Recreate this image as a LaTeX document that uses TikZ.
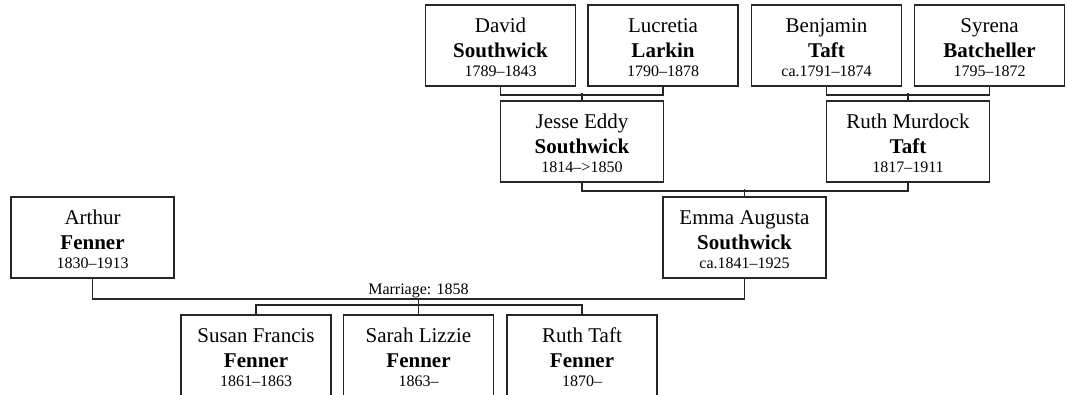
\documentclass[tikz,border=0pt]{standalone}
\usepackage{fontspec}
\setmainfont{Liberation Serif}
\usetikzlibrary{calc}
% first name, surname, dates
\newcommand{\pers}[3]{\rule{0pt}{14pt}#1\\\textbf{#2}\\[-4.5pt]{\fontsize{12}{14.25}\selectfont #3}}

\begin{document}
\begin{tikzpicture}[x=0.75pt, y=-0.75pt,
    person/.style={draw=black!85, line width=1.3pt, minimum width=112.5pt, minimum height=60.75pt,
      inner sep=0pt, align=center, font=\fontsize{15.75}{18.75}\selectfont},
    wide/.style={person, minimum width=122.25pt},
    link/.style={draw=black!85, line width=1.3pt}]
    \useasboundingbox (0,0) rectangle (1067,394);
    % grandparents
    \node[person] (david) at (500.5,45.5) {\pers{David}{Southwick}{1789–1843}};
    \node[person] (lucretia) at (663,45.5) {\pers{Lucretia}{Larkin}{1790–1878}};
    \node[person] (benjamin) at (826.5,45.5) {\pers{Benjamin}{Taft}{ca.1791–1874}};
    \node[person] (syrena) at (989.5,45.5) {\pers{Syrena}{Batcheller}{1795–1872}};
    % parents
    \node[wide] (jesse) at (582,141.5) {\pers{Jesse Eddy}{Southwick}{1814–>1850}};
    \node[wide] (ruthm) at (908,141.5) {\pers{Ruth Murdock}{Taft}{1817–1911}};
    % couple
    \node[wide] (arthur) at (92.5,237.5) {\pers{Arthur}{Fenner}{1830–1913}};
    \node[wide] (emma) at (744.5,237.5) {\pers{Emma Augusta}{Southwick}{ca.1841–1925}};
    % children (cut off at the bottom)
    \node[person] (susan) at (256,355.5) {\pers{Susan Francis}{Fenner}{1861–1863}};
    \node[person] (sarah) at (418.5,355.5) {\pers{Sarah Lizzie}{Fenner}{1863–}};
    \node[person] (rutht) at (582,355.5) {\pers{Ruth Taft}{Fenner}{1870–}};
    % parent brackets
    \draw[link] (david.south) -- ++(0,8) -| (lucretia.south);
    \draw[link] (jesse.north) -- ++(0,-7);
    \draw[link] (benjamin.south) -- ++(0,8) -| (syrena.south);
    \draw[link] (ruthm.north) -- ++(0,-7);
    \draw[link] (jesse.south) -- ++(0,8) -| (ruthm.south);
    \draw[link] (emma.north) -- ++(0,-7);
    % marriage
    \draw[link] (arthur.south) -- ++(0,20) -| (emma.south);
    \coordinate (fam) at ($(arthur.south)!0.5!(emma.south)+(0,20)$);
    \node[anchor=base, font=\fontsize{12}{14}\selectfont] (married) at ($(fam)+(0,-4)$) {Marriage: 1858};
    \draw[link] (sarah.north) -- (fam);
    \draw[link] (susan.north) -- ++(0,-9) -| (rutht.north);
\end{tikzpicture}
\end{document}
